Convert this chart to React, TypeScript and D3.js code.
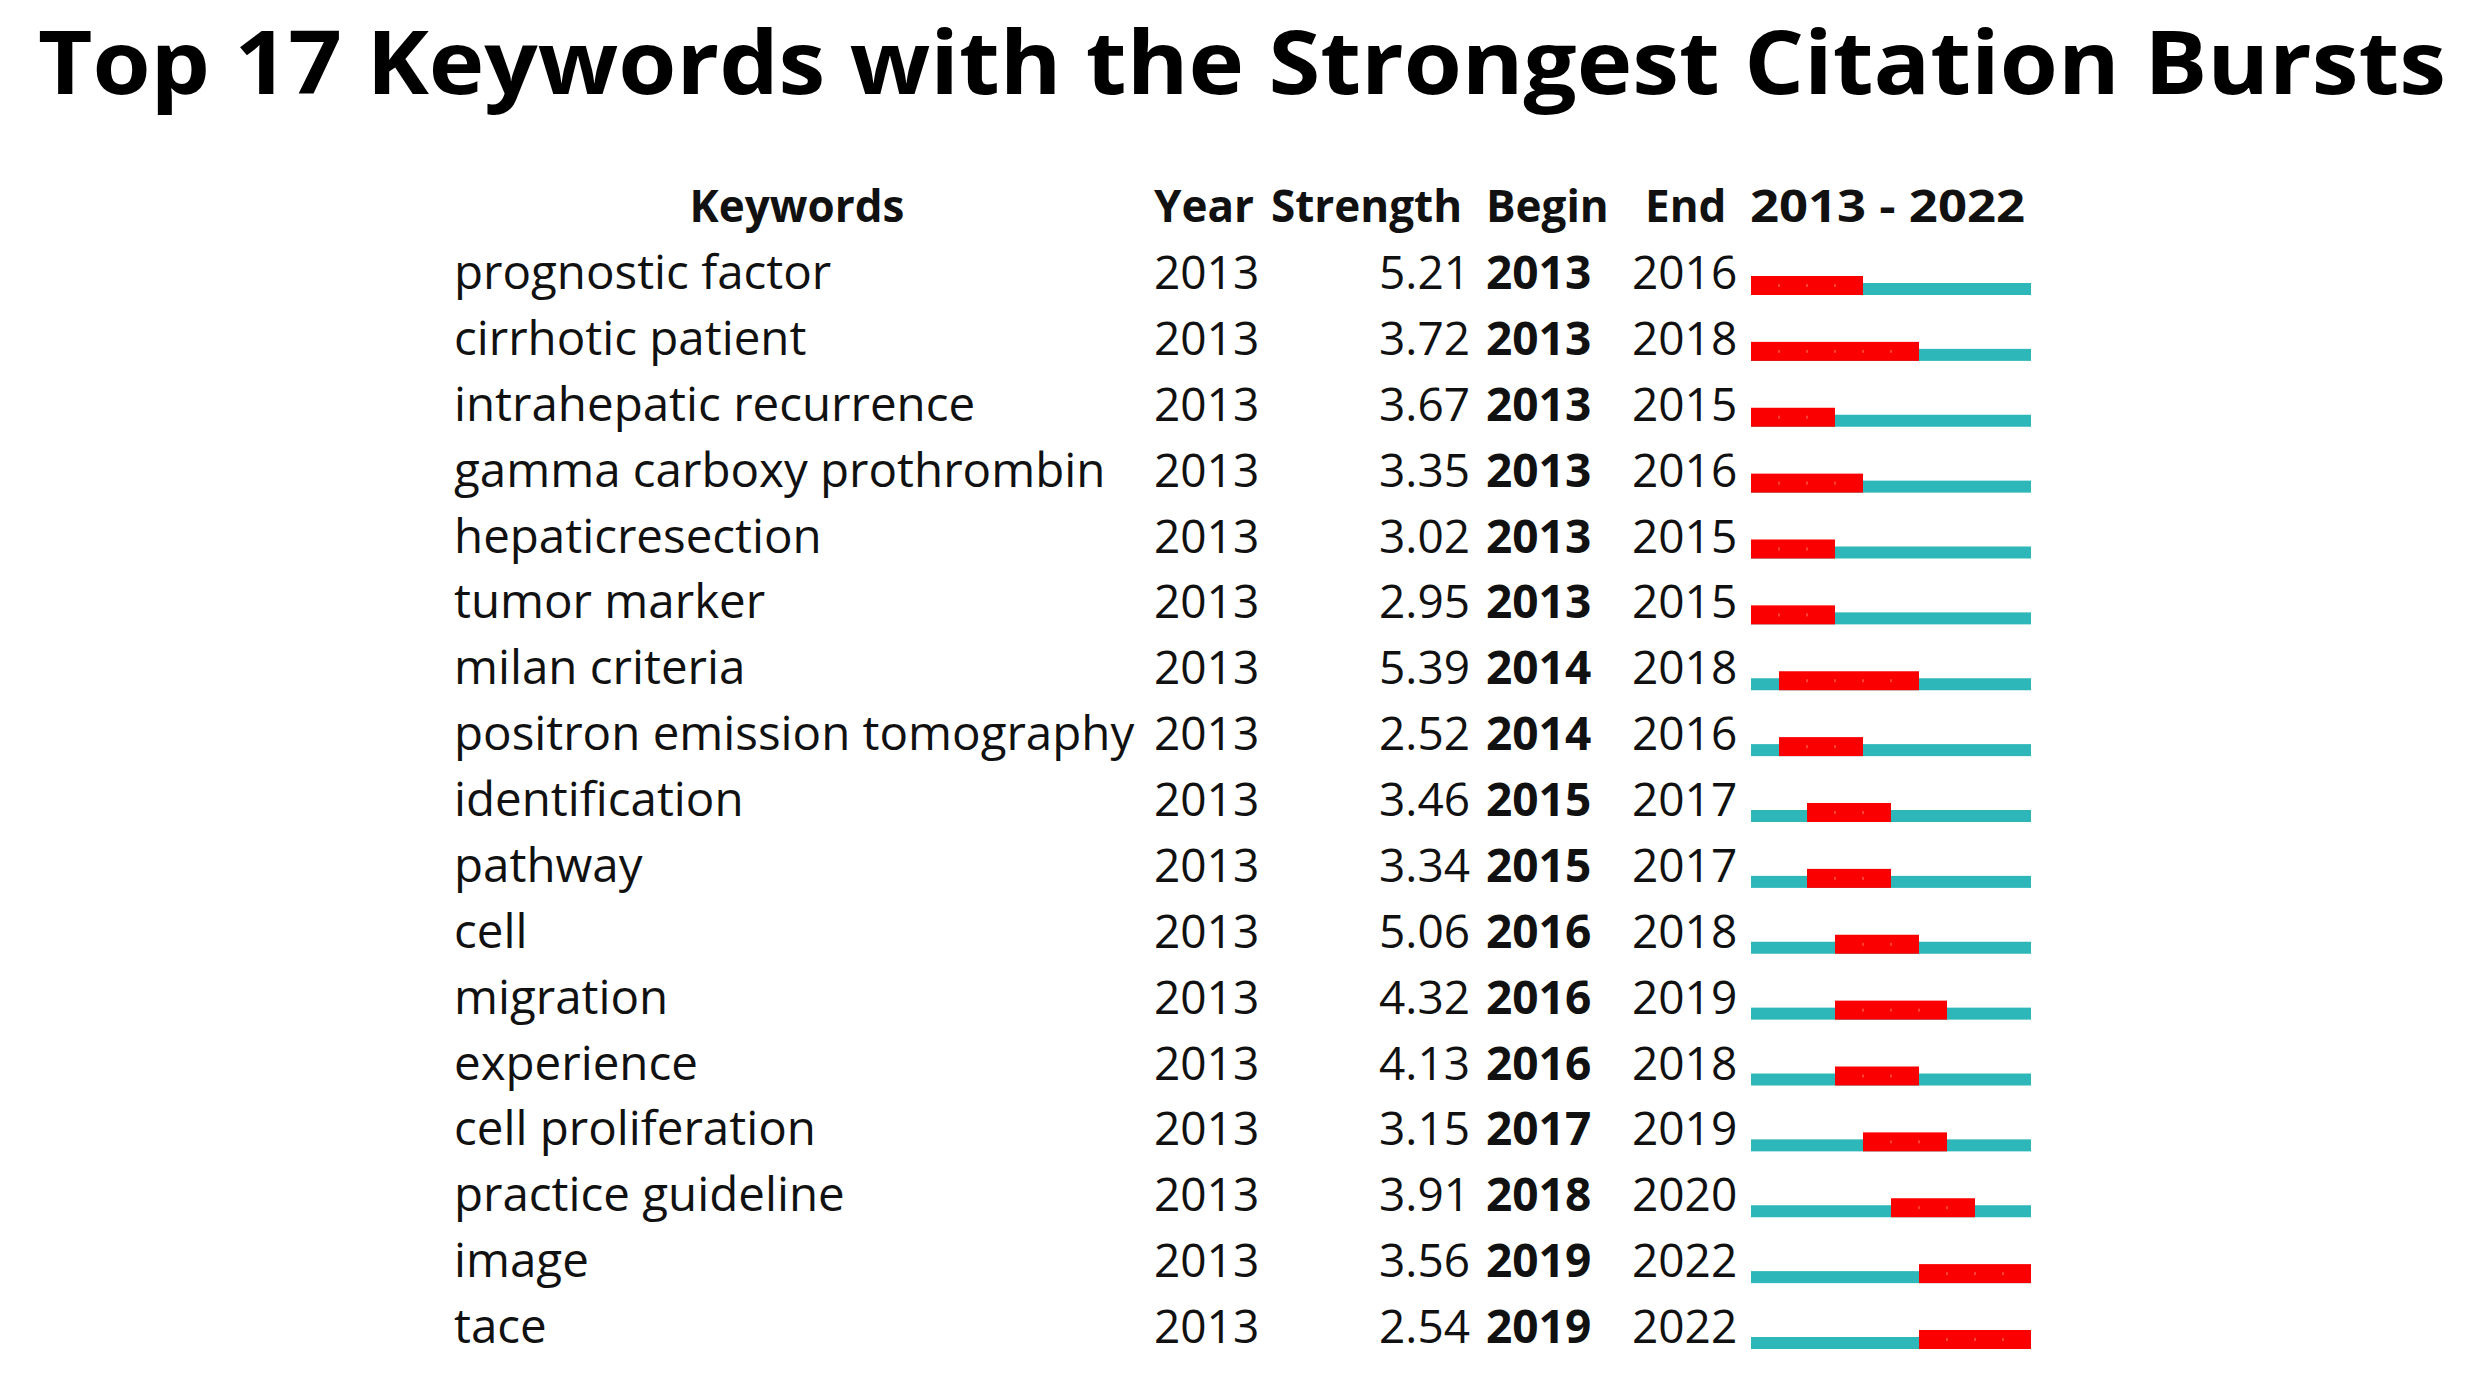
import * as d3 from "d3";

const keywords = [
  "prognostic factor",
  "cirrhotic patient",
  "intrahepatic recurrence",
  "gamma carboxy prothrombin",
  "hepaticresection",
  "tumor marker",
  "milan criteria",
  "positron emission tomography",
  "identification",
  "pathway",
  "cell",
  "migration",
  "experience",
  "cell proliferation",
  "practice guideline",
  "image",
  "tace",
];
const years = [2013, 2013, 2013, 2013, 2013, 2013, 2013, 2013, 2013, 2013, 2013, 2013, 2013, 2013, 2013, 2013, 2013];
const strengths = [5.21, 3.72, 3.67, 3.35, 3.02, 2.95, 5.39, 2.52, 3.46, 3.34, 5.06, 4.32, 4.13, 3.15, 3.91, 3.56, 2.54];
const begins = [2013, 2013, 2013, 2013, 2013, 2013, 2014, 2014, 2015, 2015, 2016, 2016, 2016, 2017, 2018, 2019, 2019];
const ends = [2016, 2018, 2015, 2016, 2015, 2015, 2018, 2016, 2017, 2017, 2018, 2019, 2018, 2019, 2020, 2022, 2022];
const headers = ["Keywords", "Year", "Strength", "Begin", "End", "2013 - 2022"];
const title = "Top 17 Keywords with the Strongest Citation Bursts";
const rangeStart = 2013;
const rangeEnd = 2022;

const RED = "#fb0000";
const TEAL = "#2db7b9";
const FONT = "'Open Sans', 'DejaVu Sans', sans-serif";

export default function App() {
  const width = 2480;
  const height = 1380;

  // one band per year on the timeline
  const x = d3.scaleLinear().domain([rangeStart, rangeEnd + 1]).range([1751, 2031]);
  // text baseline per row
  const y = d3.scaleLinear().domain([0, keywords.length - 1]).range([289, 1343]);
  const fmt = d3.format(".2f");

  const rows = keywords.map((k, i) => ({
    k,
    year: years[i],
    s: strengths[i],
    b: begins[i],
    e: ends[i],
  }));

  return (
    <svg
      width={width}
      height={height}
      style={{ position: "absolute", left: 0, top: 0, background: "#fff" }}
      fontFamily={FONT}
    >
      <rect width={width} height={height} fill="#fff" />
      <text
        x={38}
        y={94}
        fontSize={88}
        fontWeight={700}
        fill="#000"
        textLength={2408}
        lengthAdjust="spacingAndGlyphs"
      >
        {title}
      </text>

      {/* header row */}
      <g fontSize={44} fontWeight={700} fill="#111">
        <text x={797} y={222} textAnchor="middle">{headers[0]}</text>
        <text x={1154} y={222}>{headers[1]}</text>
        <text x={1271} y={222}>{headers[2]}</text>
        <text x={1486} y={222}>{headers[3]}</text>
        <text x={1645} y={222}>{headers[4]}</text>
        <text x={1750} y={222} textLength={275} lengthAdjust="spacingAndGlyphs">
          {headers[5]}
        </text>
      </g>

      {rows.map((r, i) => {
        const base = y(i);
        const internal = d3.range(r.b + 1, r.e + 1);
        return (
          <g key={r.k} fontSize={46} fill="#111">
            <text x={454} y={base} fontSize={47.5}>{r.k}</text>
            <text x={1154} y={base}>{r.year}</text>
            <text x={1470} y={base} textAnchor="end">{fmt(r.s)}</text>
            <text x={1486} y={base} fontWeight={700}>{r.b}</text>
            <text x={1632} y={base}>{r.e}</text>
            {/* full timeline */}
            <rect
              x={x(rangeStart)}
              y={base - 6}
              width={x(rangeEnd + 1) - x(rangeStart)}
              height={12}
              fill={TEAL}
            />
            {/* burst period */}
            <rect
              x={x(r.b)}
              y={base - 13}
              width={x(r.e + 1) - x(r.b)}
              height={19}
              fill={RED}
            />
            {internal.map((yr) => (
              <rect
                key={yr}
                x={x(yr) - 1}
                y={base - 5}
                width={2}
                height={3}
                fill="#ff6a5a"
                opacity={0.6}
              />
            ))}
          </g>
        );
      })}
    </svg>
  );
}
